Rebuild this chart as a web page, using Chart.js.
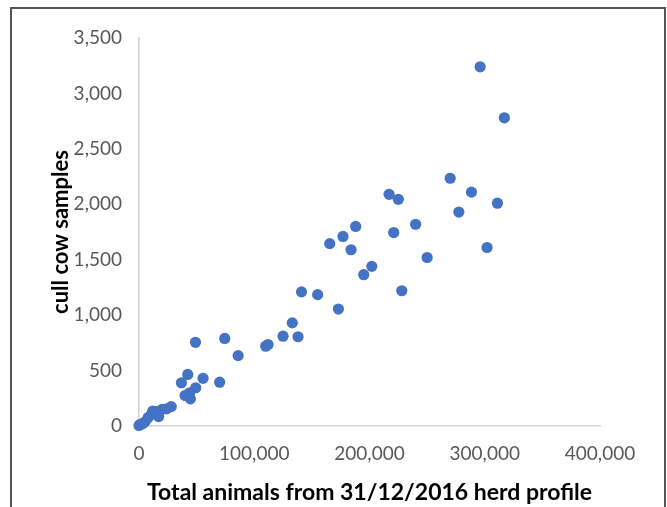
<!DOCTYPE html>
<html lang="en">
<head>
<meta charset="utf-8">
<title>Cull cow samples vs herd size</title>
<script src="https://cdn.jsdelivr.net/npm/chart.js@4"></script>
<style>
  html, body { margin: 0; padding: 0; background: #fff; }
  .frame {
    position: absolute;
    left: 10px; top: 7px;
    width: 652px; height: 540px;
    border: 2px solid #555;
  }
  .chart-box {
    position: absolute;
    left: 0; top: 0;
    width: 667px; height: 507px;
  }
</style>
</head>
<body>
<div class="frame"></div>
<div class="chart-box"><canvas id="chart-cull" width="667" height="507"></canvas></div>
<script>
/* Cull cow samples plotted against herd size (31/12/2016 profile) */

// total animals in herd profile
const herdTotals = [
  296000, 317000, 270000, 288500, 311000, 277500, 217000, 225000,
  240000, 221000, 302000, 250000, 202000, 195000, 228000,
  188000, 177000, 165500, 184000, 141000, 155000, 173000,
  133000, 125000, 138000, 74400, 49000, 110000, 112000, 86000,
  42300, 36800, 55600, 70000, 49200, 44000, 40000, 44600,
  28000, 24000, 20000, 17000, 12000, 10800, 7800, 5000, 1200, 0, 3000, 15000,
];

// cull cow samples taken
const cullSamples = [
  3240, 2780, 2235, 2110, 2010, 1930, 2090, 2045,
  1820, 1745, 1610, 1520, 1440, 1365, 1220,
  1800, 1710, 1645, 1590, 1210, 1185, 1055,
  930, 810, 805, 790, 755, 720, 735, 635,
  465, 390, 430, 395, 345, 300, 275, 245,
  175, 155, 150, 85, 135, 105, 75, 35, 15, 5, 20, 130,
];

const xTickValues = [0, 100000, 200000, 300000, 400000];
const yTickValues = [0, 500, 1000, 1500, 2000, 2500, 3000, 3500];

const xTitle = 'Total animals from 31/12/2016 herd profile';
const yTitle = 'cull cow samples';

const COLORS = {
  dot:   '#4472c4',
  axis:  '#d0d0d0',
  tick:  '#595959',
  title: '#000000',
};

function formatNumber(n) {
  return Number(n).toLocaleString('en-US');
}

function renderChart() {
  const ctx = document.getElementById('chart-cull').getContext('2d');
  const points = herdTotals.map((x, i) => ({ x, y: cullSamples[i] }));

  new Chart(ctx, {
    type: 'scatter',
    data: {
      datasets: [{
        data: points,
        backgroundColor: COLORS.dot,
        borderWidth: 0,
        pointRadius: 5.6,
        clip: false,
      }],
    },
    options: {
      responsive: false,
      animation: false,
      layout: { padding: { top: 38, right: 67, bottom: 0, left: 0 } },
      plugins: {
        legend: { display: false },
        tooltip: { enabled: false },
      },
      scales: {
        x: {
          type: 'linear',
          min: xTickValues[0],
          max: xTickValues[xTickValues.length - 1],
          afterBuildTicks: s => { s.ticks = xTickValues.map(v => ({ value: v })); },
          afterFit: s => { s.height = 81; },
          grid: { display: false, drawTicks: false },
          border: { display: true, color: COLORS.axis, width: 1.5 },
          ticks: {
            color: COLORS.tick,
            padding: 16,
            font: { family: 'Lato', size: 19 },
            callback: v => formatNumber(v),
          },
          title: {
            display: true,
            text: xTitle,
            color: COLORS.title,
            padding: { top: 0, bottom: 1 },
            font: { family: 'Lato', size: 23, weight: 'bold' },
          },
        },
        y: {
          type: 'linear',
          min: yTickValues[0],
          max: yTickValues[yTickValues.length - 1],
          afterBuildTicks: s => { s.ticks = yTickValues.map(v => ({ value: v })); },
          afterFit: s => { s.width = 139; },
          grid: { display: false, drawTicks: false },
          border: { display: true, color: COLORS.axis, width: 1.5 },
          ticks: {
            color: COLORS.tick,
            padding: 17,
            font: { family: 'Lato', size: 19 },
            callback: v => formatNumber(v),
          },
          title: {
            display: true,
            text: yTitle,
            color: COLORS.title,
            padding: { top: 48, bottom: 0 },
            font: { family: 'Lato', size: 22, weight: 'bold' },
          },
        },
      },
    },
  });
}

document.addEventListener('DOMContentLoaded', renderChart);
</script>
</body>
</html>
